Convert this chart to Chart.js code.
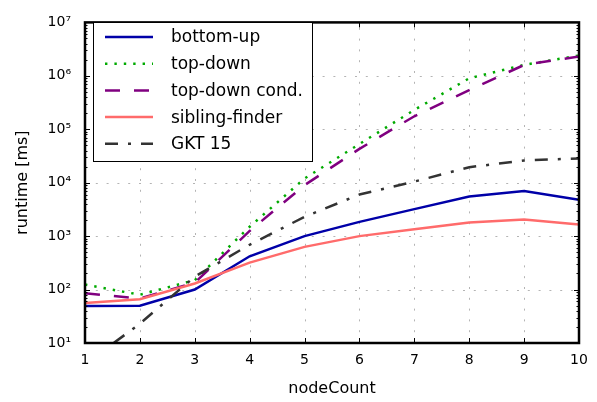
<!DOCTYPE html>
<html>
<head>
<meta charset="utf-8">
<script src="https://cdn.jsdelivr.net/npm/chart.js@4/dist/chart.umd.min.js"></script>
<style>
  html, body { margin: 0; padding: 0; background: #fff; }
  #wrap { width: 597px; height: 402px; }
</style>
</head>
<body>
<div id="wrap"><canvas id="c" width="597" height="402"></canvas></div>
<script>
// ---- data ----
const nodeCount = [1, 2, 3, 4, 5, 6, 7, 8, 9, 10];
const bottomUp = [49, 50, 100, 420, 1000, 1850, 3200, 5500, 7000, 4800];
const topDown = [124, 80, 150, 1500, 12000, 53000, 230000, 900000, 1600000, 2400000];
const topDownCond = [85, 68, 135, 1250, 9000, 43000, 175000, 540000, 1600000, 2300000];
const siblingFinder = [56, 66, 130, 320, 630, 1000, 1350, 1800, 2050, 1650];
const gkt15 = [4, 23, 175, 690, 2300, 6000, 10500, 19500, 26000, 28500];

const seriesNames = ['bottom-up', 'top-down', 'top-down cond.', 'sibling-finder', 'GKT 15'];
const xTickValues = [1, 2, 3, 4, 5, 6, 7, 8, 9, 10];
const yTickValues = [10, 100, 1000, 10000, 100000, 1000000, 10000000];
const yTickExponents = ['¹', '²', '³', '⁴', '⁵', '⁶', '⁷'];

const FONT = 'DejaVu Sans';

const styles = [
  { color: '#0000a8', dash: [] },
  { color: '#00aa00', dash: [2.4, 7] },
  { color: '#800080', dash: [15, 14] },
  { color: '#ff6b6b', dash: [] },
  { color: '#333333', dash: [13, 10, 3, 10] }
];

const seriesValues = [bottomUp, topDown, topDownCond, siblingFinder, gkt15];

const datasets = seriesValues.map((vals, i) => ({
  label: seriesNames[i],
  data: vals.map((v, k) => ({ x: nodeCount[k], y: v })),
  borderColor: styles[i].color,
  backgroundColor: styles[i].color,
  borderDash: styles[i].dash,
  borderWidth: 2.5,
  borderCapStyle: 'butt',
  pointRadius: 0,
  tension: 0,
  fill: false,
  order: seriesValues.length - i
}));

function line(ctx, x1, y1, x2, y2) {
  ctx.beginPath(); ctx.moveTo(x1, y1); ctx.lineTo(x2, y2); ctx.stroke();
}

const mplPlugin = {
  id: 'mplStyle',
  beforeDatasetsDraw(chart) {
    const { ctx, chartArea: a, scales: { x, y } } = chart;
    ctx.save();
    ctx.strokeStyle = '#b4b4b4';
    ctx.lineWidth = 1;
    ctx.setLineDash([2, 8.8]);
    xTickValues.forEach(v => {
      if (v <= x.min || v >= x.max) return;
      const px = Math.round(x.getPixelForValue(v)) + 0.5;
      line(ctx, px, a.bottom, px, a.top);
    });
    yTickValues.forEach(v => {
      if (v <= y.min || v >= y.max) return;
      const py = Math.round(y.getPixelForValue(v)) + 0.5;
      line(ctx, a.left, py, a.right, py);
    });
    ctx.restore();
  },
  afterDatasetsDraw(chart) {
    const { ctx, chartArea: a, scales: { x, y } } = chart;
    ctx.save();
    ctx.strokeStyle = '#000';
    ctx.lineWidth = 1;
    ctx.setLineDash([]);
    // major x ticks (top & bottom, inward)
    xTickValues.forEach(v => {
      const px = Math.round(x.getPixelForValue(v)) + 0.5;
      line(ctx, px, a.bottom, px, a.bottom - 5);
      line(ctx, px, a.top, px, a.top + 5);
    });
    // major y ticks
    yTickValues.forEach(v => {
      const py = Math.round(y.getPixelForValue(v)) + 0.5;
      line(ctx, a.left, py, a.left + 5, py);
      line(ctx, a.right, py, a.right - 5, py);
    });
    // minor y ticks
    for (let d = 1; d < 7; d++) {
      for (let m = 2; m <= 9; m++) {
        const v = m * Math.pow(10, d);
        const py = Math.round(y.getPixelForValue(v)) + 0.5;
        line(ctx, a.left, py, a.left + 2.5, py);
        line(ctx, a.right, py, a.right - 2.5, py);
      }
    }
    // frame
    ctx.lineWidth = 2.5;
    ctx.strokeRect(a.left, a.top, a.right - a.left, a.bottom - a.top);

    // legend
    const bx = 93, by = 22, bw = 219, bh = 139;
    ctx.fillStyle = '#fff';
    ctx.fillRect(bx, by, bw, bh);
    ctx.lineWidth = 1;
    ctx.strokeStyle = '#000';
    ctx.strokeRect(bx + 0.5, by + 0.5, bw, bh);
    ctx.font = '17px "' + FONT + '"';
    ctx.textBaseline = 'middle';
    ctx.textAlign = 'left';
    seriesNames.forEach((name, i) => {
      const ry = 37 + i * 26.7;
      ctx.strokeStyle = styles[i].color;
      ctx.lineWidth = 2.5;
      ctx.lineCap = 'butt';
      ctx.setLineDash(styles[i].dash);
      line(ctx, 105, ry, 153, ry);
      ctx.setLineDash([]);
      ctx.fillStyle = '#000';
      ctx.fillText(name, 171, ry + 1);
    });
    ctx.restore();
  }
};

new Chart(document.getElementById('c'), {
  type: 'line',
  data: { datasets },
  options: {
    responsive: false,
    animation: false,
    devicePixelRatio: 1,
    layout: { padding: { top: 12, right: 18, left: 0, bottom: 0 } },
    plugins: { legend: { display: false }, tooltip: { enabled: false } },
    scales: {
      x: {
        type: 'linear',
        min: 1, max: 10,
        afterBuildTicks: s => { s.ticks = xTickValues.map(v => ({ value: v })); },
        afterFit: s => { s.height = 59; },
        grid: { display: false, drawTicks: false },
        border: { display: false },
        ticks: {
          color: '#000', padding: 9, maxRotation: 0, autoSkip: false,
          font: { family: FONT, size: 14 },
          callback: v => String(v)
        },
        title: {
          display: true, text: 'nodeCount', color: '#000',
          font: { family: FONT, size: 16 },
          padding: { top: 0, bottom: 4 }
        }
      },
      y: {
        type: 'logarithmic',
        min: 10, max: 10000000,
        afterBuildTicks: s => { s.ticks = yTickValues.map(v => ({ value: v, major: true })); },
        afterFit: s => { s.width = 85; },
        grid: { display: false, drawTicks: false },
        border: { display: false },
        ticks: {
          color: '#000', padding: 14, autoSkip: false,
          font: { family: FONT, size: 14 },
          callback: v => {
            const idx = yTickValues.indexOf(v);
            return idx >= 0 ? '10' + yTickExponents[idx] : '';
          }
        },
        title: {
          display: true, text: 'runtime [ms]', color: '#000',
          font: { family: FONT, size: 16 },
          padding: { top: 13, bottom: 0 }
        }
      }
    }
  },
  plugins: [mplPlugin]
});
</script>
</body>
</html>
